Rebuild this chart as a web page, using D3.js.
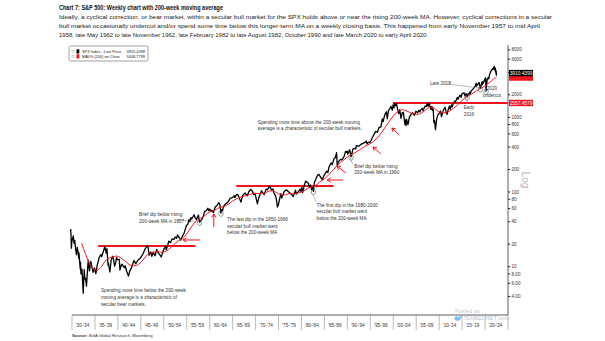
<!DOCTYPE html>
<html>
<head>
<meta charset="utf-8">
<script src="https://cdn.jsdelivr.net/npm/d3@7"></script>
<style>
  body { margin: 0; background: #fff; }
  text { font-family: "Liberation Sans", Arial, sans-serif; }
</style>
</head>
<body>
<div id="chart"></div>
<script>
// S&P 500 weekly close (year fraction, index level)
const spx = [
[1929.70,31.9],[1929.78,27],[1929.87,17.7],[1929.95,21.4],[1930.10,23.5],[1930.28,25.9],[1930.40,22],[1930.46,20.5],[1930.60,22.5],[1930.80,17],[1930.96,14.5],[1931.05,16],[1931.15,18.2],[1931.30,16],[1931.45,13],[1931.52,15.3],[1931.70,11],[1931.80,9.3],[1931.85,11.5],[1931.95,8],[1932.05,8.6],[1932.17,9.3],[1932.30,6.5],[1932.45,4.4],[1932.55,6.5],[1932.67,9.1],[1932.80,6.8],[1932.95,7],[1933.15,5.5],[1933.30,7.5],[1933.45,10.5],[1933.55,12.2],[1933.80,8.8],[1933.95,10],[1934.10,11.8],[1934.40,9.5],[1934.60,8.4],[1934.90,9.6],[1935.20,8.1],[1935.50,10.5],[1935.75,12],[1935.95,13.4],[1936.30,14.5],[1936.45,13.6],[1936.90,16.5],[1937.15,18.7],[1937.45,15.2],[1937.62,17.5],[1937.85,10.5],[1937.95,11],[1938.25,8.5],[1938.55,12.5],[1938.85,13.8],[1939.05,12.5],[1939.30,10.2],[1939.55,11.5],[1939.70,13.2],[1939.95,12.4],[1940.30,12.5],[1940.45,9],[1940.75,10.5],[1940.90,10.8],[1941.40,9.7],[1941.60,10.3],[1941.90,8.7],[1942.30,7.5],[1942.60,8.8],[1942.95,9.7],[1943.50,12.1],[1943.90,11],[1944.40,12.3],[1944.90,13],[1945.50,15],[1945.95,17.4],[1946.40,19.2],[1946.60,18],[1946.80,14.2],[1947.15,15.8],[1947.40,13.8],[1947.70,15.5],[1948.10,14],[1948.45,17],[1948.80,15.3],[1949.45,13.6],[1949.95,16.8],[1950.45,19],[1950.55,16.8],[1950.90,20],[1951.10,22],[1951.50,21],[1951.80,23.5],[1952.20,23.2],[1952.50,25],[1952.80,24],[1952.98,26.6],[1953.20,25.5],[1953.70,22.7],[1954.00,25],[1954.50,29],[1954.95,35.9],[1955.20,36.5],[1955.50,43],[1955.72,40],[1955.90,45.5],[1956.10,43.5],[1956.60,49.7],[1956.85,45],[1957.10,43],[1957.55,49],[1957.80,39.5],[1958.00,41],[1958.30,43],[1958.60,47],[1958.90,55],[1959.20,56],[1959.60,60.5],[1959.80,56],[1960.00,59],[1960.30,55],[1960.50,57],[1960.80,53],[1961.20,63],[1961.60,66],[1961.95,72],[1962.20,69],[1962.45,52.3],[1962.60,58],[1962.80,56],[1963.00,64],[1963.50,70],[1963.90,72],[1964.50,83],[1964.95,84],[1965.35,89],[1965.48,84],[1965.80,92],[1966.10,93],[1966.40,85],[1966.80,73.2],[1967.20,90],[1967.70,97],[1968.20,89],[1968.50,100],[1968.90,108],[1969.30,103],[1969.60,92],[1969.90,94],[1970.40,69.3],[1970.70,84],[1970.95,92],[1971.30,104],[1971.60,97],[1971.85,92],[1972.30,109],[1972.60,107],[1972.95,118],[1973.05,120],[1973.50,106],[1973.80,110],[1974.00,97],[1974.30,90],[1974.50,82],[1974.75,63],[1974.95,67],[1975.50,95],[1975.70,83],[1976.20,101],[1976.70,107],[1977.30,99],[1977.90,92],[1978.20,87],[1978.70,106],[1978.85,94],[1979.30,101],[1979.70,109],[1979.80,100],[1980.10,115],[1980.25,98],[1980.60,122],[1980.90,140],[1981.30,134],[1981.50,131],[1981.70,116],[1981.95,124],[1982.20,108],[1982.40,115],[1982.60,102],[1982.80,135],[1982.95,140],[1983.50,168],[1983.80,172],[1984.10,160],[1984.55,147],[1984.90,166],[1985.30,182],[1985.50,190],[1985.75,182],[1985.95,211],[1986.30,238],[1986.50,245],[1986.70,233],[1987.10,280],[1987.40,290],[1987.65,336],[1987.80,224],[1987.95,247],[1988.20,260],[1988.50,273],[1988.80,270],[1988.95,278],[1989.30,300],[1989.60,350],[1989.80,340],[1989.95,353],[1990.10,322],[1990.50,368],[1990.80,295],[1991.00,330],[1991.20,375],[1991.50,385],[1991.85,378],[1991.95,417],[1992.50,410],[1992.95,435],[1993.50,450],[1993.95,466],[1994.10,482],[1994.30,440],[1994.60,465],[1994.95,459],[1995.50,545],[1995.95,615],[1996.20,650],[1996.55,630],[1996.95,740],[1997.30,740],[1997.60,950],[1997.80,876],[1997.95,970],[1998.20,1100],[1998.50,1187],[1998.70,957],[1998.95,1229],[1999.20,1300],[1999.50,1400],[1999.80,1247],[1999.95,1469],[2000.15,1333],[2000.25,1527],[2000.40,1420],[2000.70,1520],[2000.90,1315],[2001.20,1117],[2001.40,1270],[2001.70,965],[2001.95,1148],[2002.20,1170],[2002.55,800],[2002.65,920],[2002.78,776],[2002.90,936],[2003.20,800],[2003.50,1000],[2003.95,1112],[2004.20,1150],[2004.60,1063],[2004.95,1212],[2005.30,1150],[2005.60,1245],[2005.80,1180],[2005.95,1248],[2006.35,1320],[2006.45,1223],[2006.95,1418],[2007.20,1390],[2007.40,1530],[2007.60,1406],[2007.80,1565],[2008.20,1273],[2008.40,1400],[2008.55,1240],[2008.70,1290],[2008.85,850],[2009.00,900],[2009.20,683],[2009.45,940],[2009.70,1070],[2009.95,1115],[2010.30,1217],[2010.50,1022],[2010.95,1258],[2011.30,1363],[2011.60,1120],[2011.75,1099],[2011.95,1258],[2012.25,1418],[2012.40,1278],[2012.70,1465],[2012.85,1380],[2013.00,1480],[2013.40,1650],[2013.50,1573],[2013.95,1848],[2014.10,1741],[2014.50,1980],[2014.80,1862],[2014.95,2059],[2015.40,2131],[2015.65,1920],[2015.85,2090],[2016.10,1864],[2016.30,2070],[2016.50,2037],[2016.70,2180],[2016.85,2085],[2016.95,2239],[2017.50,2440],[2017.95,2673],[2018.07,2872],[2018.15,2620],[2018.70,2930],[2018.98,2416],[2019.30,2945],[2019.40,2750],[2019.55,3025],[2019.60,2850],[2019.95,3230],[2020.12,3386],[2020.22,2237],[2020.45,3200],[2020.70,3400],[2020.80,3270],[2020.98,3756],[2021.30,4180],[2021.50,4350],[2021.70,4520],[2021.75,4350],[2021.98,4766],[2022.00,4796],[2022.20,4200],[2022.25,4545],[2022.38,3900],[2022.43,4150],[2022.46,3667],[2022.48,3911]
];

// 200-week moving average
const mavg = [
[1932.1,20.6],[1932.5,17.5],[1933.0,14.5],[1933.5,12.2],[1934.0,10.6],[1934.5,9.6],[1935.0,9.1],[1935.4,9.0],[1936.0,9.4],[1936.5,10.2],[1937.0,11.3],[1937.5,12.4],[1938.0,13.0],[1938.5,13.3],[1939.0,13.6],[1939.75,13.9],[1940.5,13.3],[1941.0,12.6],[1941.5,12.0],[1942.0,11.3],[1942.5,10.7],[1943.4,10.3],[1944.0,10.4],[1944.5,10.8],[1945.0,11.4],[1945.5,12.3],[1946.0,13.5],[1946.5,14.6],[1947.0,15.2],[1947.5,15.6],[1948.0,15.8],[1948.5,16.0],[1949.0,15.8],[1949.5,15.6],[1950.0,15.7],[1950.5,16.2],[1951.0,16.9],[1951.5,18.0],[1952.0,19.3],[1952.5,20.5],[1953.0,21.8],[1953.5,22.8],[1954.0,23.5],[1954.5,25],[1955.0,27.5],[1955.5,30.5],[1956.0,34],[1956.5,37.5],[1957.0,40.5],[1957.5,43],[1958.0,44.5],[1958.5,46],[1959.0,48.5],[1959.5,51.5],[1960.0,54],[1960.5,55.5],[1961.0,57],[1961.5,59],[1962.0,61.5],[1962.5,62.5],[1963.0,63.5],[1963.5,65.5],[1964.0,68.5],[1964.5,72],[1965.0,75.5],[1965.5,79],[1966.0,82],[1966.5,84.5],[1967.0,86],[1967.5,88],[1968.0,89.5],[1968.5,91.5],[1969.0,94],[1969.5,96],[1970.0,96.5],[1970.5,95.5],[1971.0,95],[1971.5,96],[1972.0,97.5],[1972.5,100],[1973.0,102.5],[1973.5,103.5],[1974.0,102],[1974.5,99],[1975.0,95],[1975.5,92],[1976.0,91],[1976.5,92],[1977.0,94],[1977.5,95.5],[1978.0,96],[1978.5,95.5],[1979.0,96],[1979.5,98],[1980.0,100],[1980.5,103],[1981.0,108],[1981.5,113],[1982.0,116],[1982.5,118],[1983.0,122],[1983.5,128],[1984.0,136],[1984.5,143],[1985.0,150],[1985.5,160],[1986.0,172],[1986.5,186],[1987.0,200],[1987.5,218],[1988.0,234],[1988.5,248],[1989.0,262],[1989.5,278],[1990.0,295],[1990.5,310],[1991.0,320],[1991.5,332],[1992.0,346],[1992.5,362],[1993.0,378],[1993.5,395],[1994.0,415],[1994.5,430],[1995.0,445],[1995.5,465],[1996.0,495],[1996.5,530],[1997.0,575],[1997.5,630],[1998.0,700],[1998.5,780],[1999.0,860],[1999.5,950],[2000.0,1040],[2000.5,1120],[2001.0,1190],[2001.5,1240],[2002.0,1260],[2002.5,1245],[2003.0,1210],[2003.5,1170],[2004.0,1130],[2004.5,1105],[2005.0,1095],[2005.5,1100],[2006.0,1125],[2006.5,1180],[2007.0,1250],[2007.5,1320],[2008.0,1365],[2008.5,1370],[2009.0,1320],[2009.5,1240],[2010.0,1185],[2010.5,1155],[2011.0,1150],[2011.5,1165],[2012.0,1190],[2012.5,1230],[2013.0,1300],[2013.5,1380],[2014.0,1470],[2014.5,1570],[2015.0,1680],[2015.5,1790],[2016.0,1880],[2016.5,1960],[2017.0,2030],[2017.5,2120],[2018.0,2230],[2018.5,2340],[2019.0,2440],[2019.5,2530],[2020.0,2640],[2020.5,2780],[2021.0,2940],[2021.5,3120],[2022.0,3320],[2022.48,3409]
];

// secular highs drawn as horizontal red lines: [from, to, level]
const resistance = [[1935.7, 1956.9, 18.9], [1965.8, 1987.0, 120], [1999.9, 2025, 1557.4579]];

const yTicks = [4, 6, 8, 10, 20, 40, 60, 80, 100, 200, 400, 600, 800, 1000, 2000, 4000, 6000, 8000];
// the 4000 label sits under the last-price box, so it is left blank
const yTickLabels = ["4.00", "6.00", "8.00", "10", "20", "40", "60", "80", "100", "200", "400", "600", "800", "1000", "2000", "", "6000", "8000"];

const xBins = [1930, 1935, 1940, 1945, 1950, 1955, 1960, 1965, 1970, 1975, 1980, 1985, 1990, 1995, 2000, 2005, 2010, 2015, 2020, 2025];
const xBinLabels = ["'30-'34", "'35-'39", "'40-'44", "'45-'49", "'50-'54", "'55-'59", "'60-'64", "'65-'69", "'70-'74", "'75-'79",
    "'80-'84", "'85-'89", "'90-'94", "'95-'99", "'00-'04", "'05-'09", "'10-'14", "'15-'19", "'20-'24"];

const lastPrice = 3910.4399;
const lastMavg = 3408.7799;

// dips that are circled on the chart
const dipCircles = [[1957.8, 39.5], [1962.45, 52.3], [1982.6, 102], [1990.8, 295], [2016.1, 1864], [2018.98, 2416], [2020.22, 2237]];

// red arrows: [tipYear, tipValue, tailYear, tailValue]
const arrows = [
    [1954.2, 22.8, 1957.9, 22.8],
    [1960.9, 50.8, 1960.9, 34.0],
    [1985.6, 144.7, 1989.1, 144.7],
    [1987.75, 222.8, 1989.7, 179.7],
    [1995.6, 400.4, 1997.3, 322.6],
    [1999.7, 719.2, 2001.3, 579.7]
];

// grey leader lines: [year1, value1, year2, value2]
const leaders = [
    [1952.9, 42.2, 1957.3, 40.3],
    [1982.5, 94, 1983.2, 73.5],
    [1990.6, 282, 1991.2, 234],
    [2012.0, 2780, 2018.7, 2470],
    [2016.1, 1758, 2016.1, 1507]
];

const notes = [
    {yr: 2008.0, val: 2852, anchor: "start", lines: ["Late 2018"]},
    {yr: 2021.5, val: 2444, anchor: "middle", lines: ["2020", "undercut"]},
    {yr: 2016.5, val: 1344, anchor: "middle", lines: ["Early", "2016"]},
    {yr: 1991.5, val: 222.8, anchor: "start", lines: ["Brief dip below rising", "200-week MA in 1990"]},
    {yr: 1983.3, val: 67, anchor: "start", lines: ["The first dip in the 1980-2000", "secular bull market went", "below the 200-week MA"]},
    {yr: 1944.6, val: 50.3, anchor: "start", lines: ["Brief dip below rising", "200-week MA in 1957"]},
    {yr: 1963.8, val: 43.1, anchor: "start", lines: ["The last dip in the 1950-1966", "secular bull market went", "below the 200-week MA"]},
    {yr: 1936.3, val: 4.77, anchor: "start", lines: ["Spending more time below the 200-week", "moving average is a characteristic of", "secular bear markets."]},
    {yr: 1970.5, val: 865, anchor: "start", lines: ["Spending more time above the 200-week moving", "average is a characteristic of secular bull markets."]}
];

const subtitle = [
    "Ideally, a cyclical correction, or bear market, within a secular bull market for the SPX holds above or near the rising 200-week MA. However, cyclical corrections in a secular",
    "bull market occasionally undercut and/or spend some time below this longer-term MA on a weekly closing basis. This happened from early November 1957 to mid April",
    "1958, late May 1962 to late November 1962, late February 1982 to late August 1982, October 1990 and late March 2020 to early April 2020."
];
const subtitleWidths = [493, 481, 369];

var w = 605, h = 341;
var red = "#f0141e";

var svg = d3.select("#chart").append("svg")
    .attr("width", w)
    .attr("height", h);

var x = d3.scaleLinear().domain([1930, 2025]).range([72, 508]);
var y = d3.scaleLog().domain([2.256, 9294]).range([315, 45]);

// title + subtitle
svg.append("text")
    .attr("x", 59).attr("y", 10)
    .attr("textLength", 164).attr("lengthAdjust", "spacingAndGlyphs")
    .style("font-size", "7px").style("font-weight", "bold").style("fill", "#111")
    .text("Chart 7: S&P 500: Weekly chart with 200-week moving average");

svg.selectAll(".sub")
    .data(subtitle)
    .enter().append("text")
    .attr("class", "sub")
    .attr("x", 59)
    .attr("y", function(d, i) { return 18.5 + i * 9; })
    .attr("textLength", function(d, i) { return subtitleWidths[i]; })
    .attr("lengthAdjust", "spacingAndGlyphs")
    .style("font-size", "6.2px").style("fill", "#222")
    .text(function(d) { return d; });

// legend
var leg = svg.append("g");
leg.append("rect")
    .attr("x", 69).attr("y", 46).attr("width", 79).attr("height", 15).attr("rx", 1.5)
    .style("fill", "#fff").style("stroke", "#888").style("stroke-width", 0.8);
var legRows = [["SPX Index - Last Price", lastPrice, "#000"], ["MAVG (200) on Close", lastMavg, red]];
legRows.forEach(function(r, i) {
    var yy = 51.5 + i * 5;
    leg.append("rect").attr("x", 72).attr("y", yy - 1.3).attr("width", 2).attr("height", 2)
        .style("fill", "none").style("stroke", "#999").style("stroke-width", 0.4);
    leg.append("rect").attr("x", 76.5).attr("y", yy - 2.2).attr("width", 2.8).attr("height", 4.2).style("fill", r[2]);
    leg.append("text").attr("x", 82).attr("y", yy + 1.4)
        .style("font-size", "3.9px").style("fill", "#222").text(r[0]);
    leg.append("text").attr("x", 145).attr("y", yy + 1.4).attr("text-anchor", "end")
        .style("font-size", "3.9px").style("fill", "#222").text(d3.format(".4f")(r[1]));
});

// y axis on the right
svg.append("line")
    .attr("x1", x(2025)).attr("x2", x(2025)).attr("y1", 45).attr("y2", 315)
    .style("stroke", "#333").style("stroke-width", 0.8);
var yt = svg.append("g").selectAll(".ytick")
    .data(yTicks)
    .enter().append("g")
    .attr("transform", function(d) { return "translate(" + x(2025) + "," + y(d) + ")"; });
yt.append("line").attr("x1", 0).attr("x2", 2.2).style("stroke", "#222").style("stroke-width", 1);
yt.append("text")
    .attr("x", 3.5).attr("dy", "0.35em")
    .style("font-size", "4.6px").style("fill", "#333")
    .text(function(d, i) { return yTickLabels[i]; });

svg.append("text")
    .attr("transform", "translate(" + 522 + "," + 180 + ")rotate(90)")
    .attr("text-anchor", "middle")
    .style("font-size", "10px").style("fill", "#b9b9b9")
    .text("Log");

// x axis (bins of five years)
svg.append("line")
    .attr("x1", x(1930)).attr("x2", x(2025)).attr("y1", 315).attr("y2", 315)
    .style("stroke", "#333").style("stroke-width", 0.8);
svg.append("g").selectAll(".xtick")
    .data(xBins)
    .enter().append("line")
    .attr("x1", function(d) { return x(d); }).attr("x2", function(d) { return x(d); })
    .attr("y1", 315).attr("y2", 330)
    .style("stroke", "#777").style("stroke-width", 0.5);
svg.append("g").selectAll(".xlab")
    .data(xBinLabels)
    .enter().append("text")
    .attr("x", function(d, i) { return x(xBins[i] + 2.5) - 1; })
    .attr("y", 327)
    .attr("text-anchor", "middle")
    .style("font-size", "4.6px").style("fill", "#333")
    .text(function(d) { return d; });

// source
var src = svg.append("text").attr("x", 72).attr("y", 337).style("font-size", "4.2px").style("fill", "#333");
src.append("tspan").style("font-weight", "bold").text("Source: ");
src.append("tspan").text("BofA Global Research, Bloomberg");

// horizontal secular highs
svg.append("g").selectAll(".res")
    .data(resistance)
    .enter().append("line")
    .attr("x1", function(d) { return x(d[0]); }).attr("x2", function(d) { return x(d[1]); })
    .attr("y1", function(d) { return y(d[2]); }).attr("y2", function(d) { return y(d[2]); })
    .style("stroke", red).style("stroke-width", 2);

// price + moving average
var line = d3.line()
    .x(function(d) { return x(d[0]); })
    .y(function(d) { return y(d[1]); });

svg.append("path")
    .datum(spx)
    .attr("d", line)
    .style("fill", "none").style("stroke", "#000").style("stroke-width", 1.3)
    .style("stroke-linejoin", "round");

svg.append("path")
    .datum(mavg)
    .attr("d", line.curve(d3.curveMonotoneX))
    .style("fill", "none").style("stroke", red).style("stroke-width", 1);

// circles on the dips
svg.append("g").selectAll(".dip")
    .data(dipCircles)
    .enter().append("ellipse")
    .attr("cx", function(d) { return x(d[0]); })
    .attr("cy", function(d) { return y(d[1]) + 0.5; })
    .attr("rx", 2.2).attr("ry", 2.8)
    .style("fill", "none").style("stroke", "#555").style("stroke-width", 0.6);

svg.append("g").selectAll(".leader")
    .data(leaders)
    .enter().append("line")
    .attr("x1", function(d) { return x(d[0]); }).attr("y1", function(d) { return y(d[1]); })
    .attr("x2", function(d) { return x(d[2]); }).attr("y2", function(d) { return y(d[3]); })
    .style("stroke", "#777").style("stroke-width", 0.5);

// red arrows
svg.append("g").selectAll(".arrow")
    .data(arrows)
    .enter().append("path")
    .attr("d", function(d) {
        var tx = x(d[0]), ty = y(d[1]), sx = x(d[2]), sy = y(d[3]);
        var a = Math.atan2(sy - ty, sx - tx), hl = 4;
        var p1 = [tx + hl * Math.cos(a + 0.55), ty + hl * Math.sin(a + 0.55)];
        var p2 = [tx + hl * Math.cos(a - 0.55), ty + hl * Math.sin(a - 0.55)];
        return "M" + sx + "," + sy + "L" + tx + "," + ty +
            "M" + p1[0] + "," + p1[1] + "L" + tx + "," + ty + "L" + p2[0] + "," + p2[1];
    })
    .style("fill", "none").style("stroke", red).style("stroke-width", 1);

// notes
var nt = svg.append("g").selectAll(".note")
    .data(notes)
    .enter().append("text")
    .attr("text-anchor", function(d) { return d.anchor; })
    .attr("transform", function(d) { return "translate(" + x(d.yr) + "," + y(d.val) + ")"; })
    .style("font-size", "4.7px").style("fill", "#333");
nt.selectAll("tspan")
    .data(function(d) { return d.lines; })
    .enter().append("tspan")
    .attr("x", 0)
    .attr("y", function(d, i) { return 1.7 + i * 6.6; })
    .text(function(d) { return d; });

// last value boxes on the right axis; the MA box is mostly hidden under the price box
var tags = [[lastMavg, red, false], [lastPrice, "#000", true], [1557.4579, red, true]];
var tg = svg.append("g").selectAll(".tag")
    .data(tags)
    .enter().append("g")
    .attr("transform", function(d) { return "translate(" + (x(2025) + 1) + "," + y(d[0]) + ")"; });
tg.append("rect")
    .attr("x", 0).attr("y", -3.2).attr("width", 24).attr("height", 6.4)
    .style("fill", function(d) { return d[1]; });
tg.filter(function(d) { return d[2]; }).append("text")
    .attr("x", 12).attr("dy", "0.36em").attr("text-anchor", "middle")
    .style("font-size", "4.8px").style("fill", "#fff")
    .text(function(d) { return d3.format(".4f")(d[0]); });

// watermark
var wm = svg.append("g").style("opacity", 0.75);
wm.append("text").attr("x", 455).attr("y", 313).style("font-size", "5.5px").style("fill", "#9fb4c8").text("Posted on");
wm.append("path").attr("d", "M454,318 q2,-3 5,-1 q2,-2 3,0 l-1,1 q-1,3 -4,3 q-2,0 -3,-3 z").style("fill", "#55acee");
wm.append("text").attr("x", 464).attr("y", 320).style("font-size", "6px").style("fill", "#9fb4c8").text("ISABELNET.com");
</script>
</body>
</html>
